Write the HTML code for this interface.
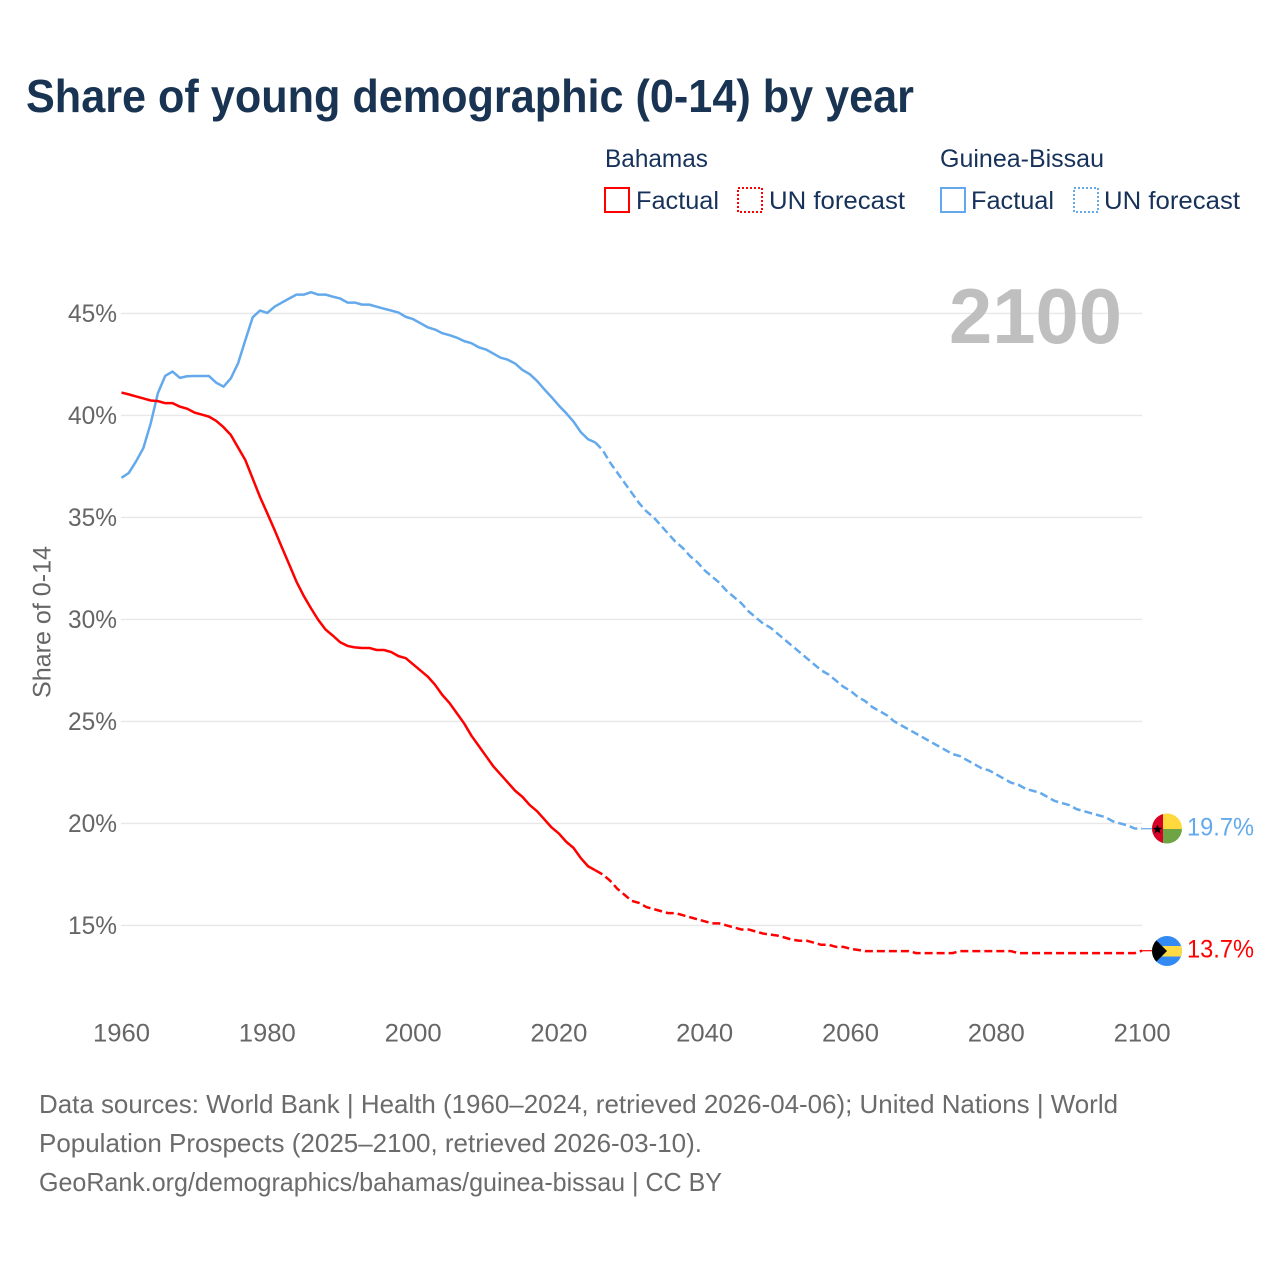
<!DOCTYPE html>
<html lang="en">
<head>
<meta charset="utf-8">
<title>Share of young demographic (0-14) by year</title>
<style>
html,body{margin:0;padding:0;background:#fff}
svg{display:block;font-family:"Liberation Sans",sans-serif}
.axis{fill:#666;font-size:25px}
.legend{fill:#17325a;font-size:25px}
.foot{fill:#6b6b6b;font-size:26px}
</style>
</head>
<body>
<svg id="chart" xmlns="http://www.w3.org/2000/svg" width="1280" height="1280" viewBox="0 0 1280 1280">
  <defs>
    <clipPath id="flag-clip-gw"><circle cx="1167" cy="828.5" r="15"/></clipPath>
    <clipPath id="flag-clip-bs"><circle cx="1167" cy="951" r="15"/></clipPath>
  </defs>
  <rect width="1280" height="1280" fill="#fff"/>
  <text x="26" y="112" font-size="46" font-weight="bold" fill="#193352" textLength="888" lengthAdjust="spacingAndGlyphs">Share of young demographic (0-14) by year</text>

  <g>
    <text class="legend" x="605" y="167" textLength="103" lengthAdjust="spacingAndGlyphs">Bahamas</text>
    <text class="legend" x="940" y="167" textLength="164" lengthAdjust="spacingAndGlyphs">Guinea-Bissau</text>
    <rect x="605" y="188" width="24" height="24" fill="none" stroke="#ff0000" stroke-width="2"/>
    <text class="legend" x="636" y="209" textLength="83" lengthAdjust="spacingAndGlyphs">Factual</text>
    <rect x="738" y="188" width="24" height="24" fill="none" stroke="#ff0000" stroke-width="2" stroke-dasharray="2 2"/>
    <text class="legend" x="769" y="209" textLength="136" lengthAdjust="spacingAndGlyphs">UN forecast</text>
    <rect x="941" y="188" width="24" height="24" fill="none" stroke="#63a9ec" stroke-width="2"/>
    <text class="legend" x="971" y="209" textLength="83" lengthAdjust="spacingAndGlyphs">Factual</text>
    <rect x="1074" y="188" width="24" height="24" fill="none" stroke="#63a9ec" stroke-width="2" stroke-dasharray="2 2"/>
    <text class="legend" x="1104" y="209" textLength="136" lengthAdjust="spacingAndGlyphs">UN forecast</text>
  </g>

  <g id="grid"></g>
  <g id="yticks"></g>
  <g id="xticks"></g>
  <text class="axis" transform="translate(50.5 698) rotate(-90)" x="0" y="0" textLength="152" lengthAdjust="spacingAndGlyphs">Share of 0-14</text>
  <text x="949" y="343" font-size="78" font-weight="bold" fill="#bfbfbf" textLength="173" lengthAdjust="spacingAndGlyphs">2100</text>

  <g id="series"></g>

  <g clip-path="url(#flag-clip-gw)">
    <rect x="1152" y="813" width="30" height="16" fill="#ffd83d"/>
    <rect x="1152" y="829" width="30" height="16" fill="#6da544"/>
    <rect x="1152" y="813" width="11" height="32" fill="#d80027"/>
    <polygon points="1157.5,824.5 1158.8,827.8 1162.3,827.9 1159.6,830 1160.5,833.4 1157.5,831.5 1154.5,833.4 1155.4,830 1152.7,827.9 1156.2,827.8" fill="#000"/>
  </g>
  <g clip-path="url(#flag-clip-bs)">
    <rect x="1152" y="936" width="30" height="30" fill="#338af3"/>
    <rect x="1152" y="946" width="30" height="10.5" fill="#ffda44"/>
    <polygon points="1150,934 1167,951 1150,968" fill="#000"/>
  </g>
  <text x="1187" y="835.5" font-size="25" fill="#63a9ec" textLength="67" lengthAdjust="spacingAndGlyphs">19.7%</text>
  <text x="1187" y="957.5" font-size="25" fill="#ff0000" textLength="67" lengthAdjust="spacingAndGlyphs">13.7%</text>

  <g>
    <text class="foot" x="39" y="1113" textLength="1079" lengthAdjust="spacingAndGlyphs">Data sources: World Bank | Health (1960–2024, retrieved 2026-04-06); United Nations | World</text>
    <text class="foot" x="39" y="1152" textLength="663" lengthAdjust="spacingAndGlyphs">Population Prospects (2025–2100, retrieved 2026-03-10).</text>
    <text class="foot" x="39" y="1191" textLength="683" lengthAdjust="spacingAndGlyphs">GeoRank.org/demographics/bahamas/guinea-bissau | CC BY</text>
  </g>
</svg>
<script>
const yTickValues = [15, 20, 25, 30, 35, 40, 45];
const xTickYears = [1960, 1980, 2000, 2020, 2040, 2060, 2080, 2100];
const factualStartYear = 1960;
const forecastStartYear = 2025;
const guineaBissauFactual = [
  36.94,37.18,37.75,38.4,39.6,41.1,41.94,42.15,41.84,41.92,
  41.93,41.93,41.93,41.6,41.41,41.82,42.56,43.7,44.81,45.14,
  45.02,45.33,45.53,45.73,45.92,45.92,46.04,45.92,45.92,45.82,
  45.73,45.53,45.53,45.43,45.43,45.33,45.23,45.14,45.04,44.83,
  44.72,44.52,44.32,44.21,44.03,43.93,43.81,43.64,43.54,43.34,
  43.23,43.03,42.83,42.73,42.54,42.23,42.02,41.69,41.28,40.89,
  40.48,40.11,39.7,39.18,38.83,38.67
];
const guineaBissauForecast = [
  38.67,38.3,37.7,37.2,36.7,
  36.2,35.7,35.3,35.0,34.6,34.2,33.8,33.5,33.1,32.8,
  32.4,32.1,31.8,31.4,31.1,30.8,30.4,30.1,29.8,29.6,
  29.3,29.0,28.7,28.4,28.1,27.8,27.5,27.3,27.0,26.7,
  26.5,26.2,26.0,25.7,25.5,25.3,25.0,24.8,24.6,24.4,
  24.2,24.0,23.8,23.6,23.4,23.3,23.1,22.9,22.7,22.6,
  22.4,22.2,22.0,21.9,21.7,21.6,21.5,21.3,21.1,21.0,
  20.9,20.7,20.6,20.5,20.4,20.3,20.1,20.0,19.9,19.75,19.74
];
const bahamasFactual = [
  41.12,41.03,40.93,40.83,40.73,40.7,40.6,40.6,40.43,40.33,
  40.14,40.04,39.94,39.73,39.42,39.04,38.42,37.8,36.9,36.0,
  35.2,34.38,33.53,32.7,31.85,31.15,30.54,29.97,29.5,29.2,
  28.88,28.7,28.63,28.6,28.6,28.5,28.5,28.4,28.2,28.1,
  27.8,27.5,27.2,26.8,26.3,25.9,25.4,24.9,24.3,23.8,
  23.3,22.8,22.4,22.0,21.6,21.3,20.9,20.6,20.2,19.8,
  19.5,19.1,18.8,18.3,17.9,17.7
];
const bahamasForecast = [
  17.7,17.5,17.2,16.8,16.5,
  16.2,16.1,15.9,15.8,15.7,15.6,15.6,15.5,15.4,15.3,
  15.2,15.1,15.1,15.0,14.9,14.8,14.8,14.7,14.6,14.55,
  14.5,14.4,14.3,14.25,14.25,14.15,14.05,14.05,13.95,13.95,
  13.85,13.8,13.74,13.74,13.74,13.74,13.74,13.74,13.74,13.64,
  13.64,13.64,13.64,13.64,13.64,13.74,13.74,13.74,13.74,13.74,
  13.74,13.74,13.74,13.64,13.64,13.64,13.64,13.64,13.64,13.64,
  13.64,13.64,13.64,13.64,13.64,13.64,13.64,13.64,13.64,13.64,13.76
];

const NS = 'http://www.w3.org/2000/svg';
const xScale = function (year) { return 121.5 + (year - 1960) * 7.29; };
const yScale = function (v) { return 313.4 + (45 - v) * 20.4; };
const RED = '#ff0000';
const BLUE = '#63a9ec';

function svgEl(tag, parent) {
  const el = document.createElementNS(NS, tag);
  parent.appendChild(el);
  return el;
}

function pathFrom(values, startYear) {
  return values.map(function (v, i) {
    return (i ? 'L' : 'M') + xScale(startYear + i).toFixed(2) + ' ' + yScale(v).toFixed(2);
  }).join(' ');
}

const gridGroup = document.getElementById('grid');
const yTickGroup = document.getElementById('yticks');
yTickValues.forEach(function (v) {
  const line = svgEl('line', gridGroup);
  
  
  line.setAttribute('x1', xScale(1960) - 0.5);
  line.setAttribute('x2', xScale(2100));
  line.setAttribute('y1', yScale(v));
  line.setAttribute('y2', yScale(v));
  line.setAttribute('stroke', '#e8e8e8');
  line.setAttribute('stroke-width', '1.4');
  const label = svgEl('text', yTickGroup);
  
  
  label.setAttribute('class', 'axis');
  label.setAttribute('x', 117);
  label.setAttribute('y', yScale(v) + 8.6);
  label.setAttribute('text-anchor', 'end');
  label.setAttribute('textLength', '49');
  label.setAttribute('lengthAdjust', 'spacingAndGlyphs');
  label.textContent = v + '%';
});

const xTickGroup = document.getElementById('xticks');
xTickYears.forEach(function (year) {
  const label = svgEl('text', xTickGroup);
  
  
  label.setAttribute('class', 'axis');
  label.setAttribute('x', xScale(year));
  label.setAttribute('y', 1041.5);
  label.setAttribute('text-anchor', 'middle');
  label.setAttribute('textLength', '57');
  label.setAttribute('lengthAdjust', 'spacingAndGlyphs');
  label.textContent = year;
});

const seriesGroup = document.getElementById('series');

function drawLine(values, startYear, color, dashed, name) {
  const p = svgEl('path', seriesGroup);
  
  
  p.setAttribute('d', pathFrom(values, startYear));
  p.setAttribute('fill', 'none');
  p.setAttribute('stroke', color);
  p.setAttribute('stroke-width', '2.5');
  p.setAttribute('stroke-linejoin', 'round');
  if (dashed) {
    p.setAttribute('stroke-dasharray', '8 4');
  }
}

function drawConnector(values, color, name) {
  const last = values[values.length - 1];
  const c = svgEl('line', seriesGroup);
  
  
  c.setAttribute('x1', xScale(2100));
  c.setAttribute('x2', 1152);
  c.setAttribute('y1', yScale(last));
  c.setAttribute('y2', yScale(last));
  c.setAttribute('stroke', color);
  c.setAttribute('stroke-width', '1.2');
}

drawLine(guineaBissauFactual, factualStartYear, BLUE, false, 'line-guinea-bissau-factual');
drawLine(guineaBissauForecast, forecastStartYear, BLUE, true, 'line-guinea-bissau-forecast');
drawLine(bahamasFactual, factualStartYear, RED, false, 'line-bahamas-factual');
drawLine(bahamasForecast, forecastStartYear, RED, true, 'line-bahamas-forecast');
drawConnector(guineaBissauForecast, BLUE, 'connector-guinea-bissau');
drawConnector(bahamasForecast, RED, 'connector-bahamas');
</script>
</body>
</html>
